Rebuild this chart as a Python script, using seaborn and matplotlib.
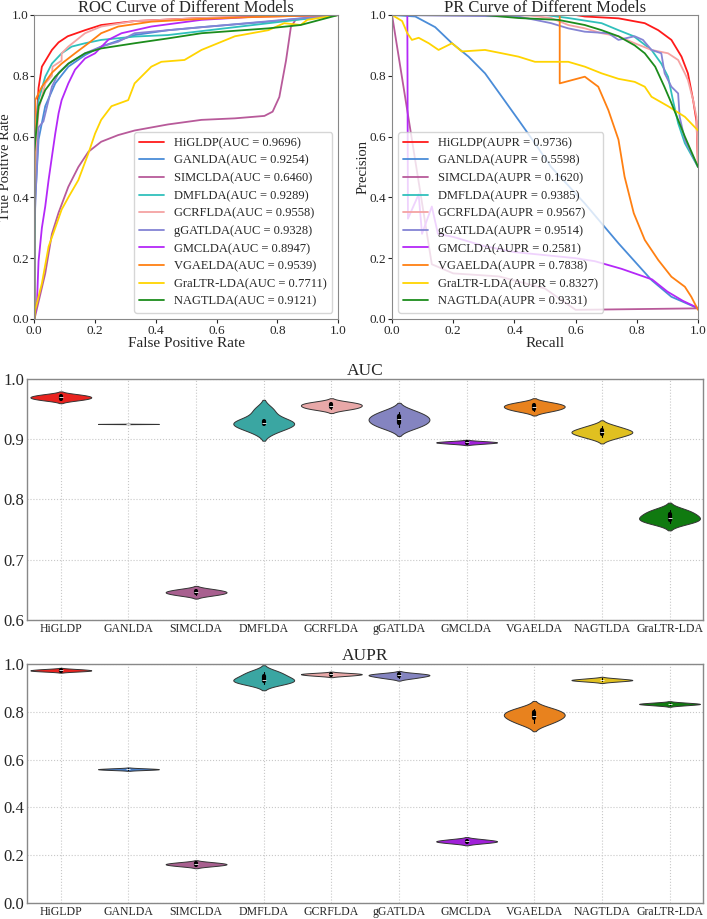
import numpy as np
import pandas as pd
import matplotlib
matplotlib.use("Agg")
import matplotlib.pyplot as plt
import seaborn as sns

# model names / colours (curve order = legend order)
models = ['HiGLDP', 'GANLDA', 'SIMCLDA', 'DMFLDA', 'GCRFLDA', 'gGATLDA',
          'GMCLDA', 'VGAELDA', 'GraLTR-LDA', 'NAGTLDA']
auc_vals = ['0.9696', '0.9254', '0.6460', '0.9289', '0.9558', '0.9328',
            '0.8947', '0.9539', '0.7711', '0.9121']
aupr_vals = ['0.9736', '0.5598', '0.1620', '0.9385', '0.9567', '0.9514',
             '0.2581', '0.7838', '0.8327', '0.9331']
line_colors = ['#FF1A1A', '#4A8CD8', '#B85A9A', '#30C0BC', '#F5A3A3', '#8484D4',
               '#B428F8', '#FF8012', '#FFD400', '#1C8C1C']

# ROC curves (fpr, tpr)
roc_higldp = [(0, 0), (0.0, 0.45), (0.005, 0.6), (0.014, 0.76), (0.025, 0.83), (0.058, 0.885), (0.08, 0.91),
              (0.11, 0.93), (0.167, 0.95), (0.22, 0.967), (0.33, 0.98), (0.55, 0.99), (1, 1)]
roc_ganlda = [(0, 0), (0.003, 0.39), (0.014, 0.59), (0.036, 0.70), (0.069, 0.775), (0.112, 0.83),
              (0.167, 0.868), (0.22, 0.896), (0.33, 0.934), (0.44, 0.95), (0.55, 0.96), (0.77, 0.978), (1, 1)]
roc_simclda = [(0, 0), (0.003, 0.01), (0.036, 0.15), (0.058, 0.28), (0.08, 0.35), (0.112, 0.435), (0.145, 0.5),
               (0.178, 0.55), (0.22, 0.583), (0.276, 0.605), (0.33, 0.62), (0.44, 0.64), (0.55, 0.655),
               (0.66, 0.66), (0.757, 0.668), (0.784, 0.682), (0.806, 0.73), (0.828, 0.85), (0.844, 0.96),
               (0.86, 0.985), (1, 1)]
roc_dmflda = [(0, 0), (0.0, 0.45), (0.005, 0.6), (0.014, 0.72), (0.036, 0.797), (0.058, 0.84), (0.09, 0.874),
              (0.123, 0.896), (0.167, 0.907), (0.22, 0.918), (0.33, 0.929), (0.44, 0.934), (1, 1)]
roc_gcrflda = [(0, 0), (0.0, 0.4), (0.005, 0.55), (0.014, 0.687), (0.036, 0.775), (0.058, 0.8), (0.06, 0.83),
               (0.09, 0.85), (0.09, 0.874), (0.112, 0.896), (0.167, 0.94), (0.22, 0.962), (0.33, 0.98),
               (0.55, 0.99), (1, 1)]
roc_ggatlda = [(0, 0), (0.0, 0.3), (0.014, 0.63), (0.03, 0.65), (0.047, 0.72), (0.058, 0.764), (0.08, 0.81),
               (0.112, 0.84), (0.167, 0.874), (0.22, 0.896), (0.276, 0.912), (0.33, 0.94), (1, 1)]
roc_gmclda = [(0, 0), (0.009, 0.06), (0.014, 0.19), (0.025, 0.30), (0.036, 0.37), (0.047, 0.457),
              (0.058, 0.534), (0.069, 0.61), (0.08, 0.677), (0.09, 0.72), (0.112, 0.775), (0.134, 0.82),
              (0.167, 0.857), (0.2, 0.874), (0.243, 0.918), (0.287, 0.94), (0.385, 0.962), (0.55, 0.984),
              (0.77, 0.997), (1, 1)]
roc_vgaelda = [(0, 0), (0.0, 0.5), (0.003, 0.72), (0.025, 0.764), (0.058, 0.81), (0.09, 0.84), (0.134, 0.874),
               (0.178, 0.907), (0.22, 0.94), (0.276, 0.962), (0.385, 0.978), (0.55, 0.987), (0.77, 0.995), (1, 1)]
roc_graltr = [(0, 0), (0.003, 0.03), (0.025, 0.117), (0.047, 0.238), (0.069, 0.30), (0.09, 0.36), (0.112, 0.40),
              (0.145, 0.457), (0.178, 0.545), (0.2, 0.61), (0.22, 0.655), (0.254, 0.70), (0.309, 0.72),
              (0.33, 0.775), (0.385, 0.83), (0.418, 0.846), (0.494, 0.852), (0.55, 0.885), (0.66, 0.93),
              (0.77, 0.95), (0.822, 0.973), (0.876, 0.967), (0.898, 0.984), (1, 1)]
roc_nagtlda = [(0, 0), (0.0, 0.55), (0.014, 0.70), (0.036, 0.753), (0.069, 0.797), (0.112, 0.84),
               (0.167, 0.874), (0.22, 0.89), (0.33, 0.907), (0.44, 0.923), (0.55, 0.94), (0.77, 0.956),
               (0.876, 0.967), (1, 1)]

# PR curves (recall, precision)
pr_higldp = [(0, 1), (0.6, 1.0), (0.63, 0.995), (0.74, 0.989), (0.826, 0.973), (0.87, 0.95), (0.913, 0.918),
             (0.946, 0.863), (0.967, 0.808), (0.984, 0.72), (0.995, 0.65), (1.0, 0.5)]
pr_ganlda = [(0, 1), (0.076, 0.995), (0.141, 0.96), (0.196, 0.907), (0.25, 0.863), (0.304, 0.808),
             (0.359, 0.731), (0.413, 0.655), (0.467, 0.578), (0.52, 0.50), (0.63, 0.38), (0.74, 0.249),
             (0.848, 0.128), (0.913, 0.073), (1.0, 0.035)]
pr_simclda = [(0, 1), (0.065, 0.59), (0.13, 0.18), (0.2, 0.15), (0.35, 0.14), (0.5, 0.1), (0.6, 0.03),
              (1.0, 0.035)]
pr_dmflda = [(0, 1), (0.5, 1.0), (0.576, 0.99), (0.685, 0.973), (0.74, 0.95), (0.79, 0.93), (0.848, 0.885),
             (0.88, 0.84), (0.902, 0.797), (0.918, 0.72), (0.935, 0.644), (0.957, 0.578), (1.0, 0.5)]
pr_gcrflda = [(0, 1), (0.45, 0.998), (0.52, 0.99), (0.576, 0.967), (0.63, 0.956), (0.685, 0.94), (0.74, 0.93),
              (0.793, 0.907), (0.848, 0.885), (0.902, 0.874), (0.935, 0.852), (0.957, 0.808), (0.967, 0.786),
              (0.984, 0.72), (0.995, 0.665), (1.0, 0.5)]
pr_ggatlda = [(0, 1), (0.41, 0.995), (0.467, 0.984), (0.52, 0.973), (0.576, 0.956), (0.63, 0.945),
              (0.707, 0.94), (0.74, 0.918), (0.793, 0.93), (0.82, 0.918), (0.848, 0.885), (0.88, 0.874),
              (0.891, 0.808), (0.913, 0.764), (0.935, 0.742), (0.94, 0.665), (0.957, 0.589), (1.0, 0.5)]
pr_gmclda = [(0, 1), (0.05, 1.0), (0.052, 0.33), (0.087, 0.41), (0.098, 0.28), (0.13, 0.37), (0.15, 0.28),
             (0.2, 0.27), (0.3, 0.24), (0.4, 0.22), (0.5, 0.21), (0.6, 0.2), (0.663, 0.19), (0.75, 0.165),
             (0.85, 0.13), (0.9, 0.09), (0.95, 0.06), (1.0, 0.036)]
pr_vgaelda = [(0, 1), (0.548, 1.0), (0.548, 0.775), (0.63, 0.797), (0.674, 0.764), (0.707, 0.687),
              (0.74, 0.59), (0.76, 0.468), (0.79, 0.348), (0.826, 0.26), (0.87, 0.194), (0.913, 0.139),
              (0.957, 0.106), (0.978, 0.073), (1.0, 0.03)]
pr_graltr = [(0, 1), (0.033, 0.98), (0.05, 0.94), (0.065, 0.918), (0.087, 0.925), (0.12, 0.907),
             (0.152, 0.885), (0.196, 0.907), (0.228, 0.88), (0.304, 0.885), (0.359, 0.874), (0.413, 0.863),
             (0.467, 0.846), (0.576, 0.846), (0.63, 0.83), (0.685, 0.808), (0.74, 0.79), (0.793, 0.78),
             (0.826, 0.764), (0.848, 0.731), (0.902, 0.70), (0.957, 0.665), (1.0, 0.62)]
pr_nagtlda = [(0, 1), (0.3, 1.0), (0.413, 0.99), (0.543, 0.984), (0.63, 0.967), (0.685, 0.95), (0.74, 0.93),
              (0.793, 0.90), (0.826, 0.874), (0.86, 0.83), (0.89, 0.764), (0.913, 0.71), (0.935, 0.655),
              (0.957, 0.6), (1.0, 0.5)]

roc_curves = [roc_higldp, roc_ganlda, roc_simclda, roc_dmflda, roc_gcrflda, roc_ggatlda,
              roc_gmclda, roc_vgaelda, roc_graltr, roc_nagtlda]
pr_curves = [pr_higldp, pr_ganlda, pr_simclda, pr_dmflda, pr_gcrflda, pr_ggatlda,
             pr_gmclda, pr_vgaelda, pr_graltr, pr_nagtlda]

# per-fold scores for the violins (violin order differs from legend order)
violin_models = ['HiGLDP', 'GANLDA', 'SIMCLDA', 'DMFLDA', 'GCRFLDA', 'gGATLDA',
                 'GMCLDA', 'VGAELDA', 'NAGTLDA', 'GraLTR-LDA']
violin_colors = ['#E8231F', '#4A7FC8', '#A8608F', '#3AA6A2', '#E8A8A8', '#8484C0',
                 '#A020D8', '#E8821E', '#E0C020', '#107A10']
auc_folds = [
    [0.9650, 0.9676, 0.9696, 0.9716, 0.9742],
    [0.9252, 0.9253, 0.9254, 0.9255, 0.9256],
    [0.6410, 0.6440, 0.6460, 0.6480, 0.6510],
    [0.9150, 0.9250, 0.9270, 0.9300, 0.9480],
    [0.9500, 0.9530, 0.9560, 0.9585, 0.9615],
    [0.9200, 0.9270, 0.9330, 0.9380, 0.9460],
    [0.8925, 0.8940, 0.8947, 0.8955, 0.8968],
    [0.9470, 0.9510, 0.9540, 0.9570, 0.9605],
    [0.9030, 0.9090, 0.9120, 0.9150, 0.9215],
    [0.7610, 0.7660, 0.7700, 0.7760, 0.7825],
]
aupr_folds = [
    [0.9690, 0.9715, 0.9735, 0.9755, 0.9785],
    [0.5565, 0.5585, 0.5598, 0.5610, 0.5632],
    [0.1540, 0.1590, 0.1620, 0.1650, 0.1700],
    [0.9180, 0.9280, 0.9350, 0.9500, 0.9670],
    [0.9510, 0.9545, 0.9570, 0.9590, 0.9620],
    [0.9410, 0.9480, 0.9520, 0.9560, 0.9600],
    [0.2500, 0.2550, 0.2580, 0.2610, 0.2665],
    [0.7520, 0.7720, 0.7840, 0.7970, 0.8120],
    [0.9270, 0.9310, 0.9330, 0.9350, 0.9395],
    [0.8270, 0.8310, 0.8327, 0.8345, 0.8383],
]

sns.set_style("white")
plt.rcParams['font.family'] = ['Liberation Serif', 'DejaVu Serif']

fig = plt.figure(figsize=(7.07, 9.19), dpi=100)
ax_roc = fig.add_axes([0.0485, 0.6529, 0.4300, 0.3308])
ax_pr = fig.add_axes([0.5545, 0.6529, 0.4328, 0.3308])
ax_auc = fig.add_axes([0.0382, 0.3254, 0.9566, 0.2622])
ax_aupr = fig.add_axes([0.0382, 0.0175, 0.9566, 0.2600])

for pts, name, val, c in zip(roc_curves, models, auc_vals, line_colors):
    xs, ys = zip(*pts)
    ax_roc.plot(xs, ys, color=c, lw=1.3, label=f'{name}(AUC = {val})')
for pts, name, val, c in zip(pr_curves, models, aupr_vals, line_colors):
    xs, ys = zip(*pts)
    ax_pr.plot(xs, ys, color=c, lw=1.3, label=f'{name}(AUPR = {val})')

for ax, title, xl, yl, loc in [(ax_roc, 'ROC Curve of Different Models', 'False Positive Rate', 'True Positive Rate', 'lower right'),
                               (ax_pr, 'PR Curve of Different Models', 'Recall', 'Precision', 'lower left')]:
    ax.set_xlim(0, 1)
    ax.set_ylim(0, 1)
    ax.set_xticks(np.arange(0, 1.01, 0.2))
    ax.set_yticks(np.arange(0, 1.01, 0.2))
    ax.tick_params(labelsize=9.5, length=3, direction='out', left=True, bottom=True, pad=1)
    ax.set_title(title, fontsize=12, pad=2)
    ax.set_xlabel(xl, fontsize=11, labelpad=0)
    ax.set_ylabel(yl, fontsize=10.5, labelpad=0)
    for s in ax.spines.values():
        s.set_color('#888888')
        s.set_linewidth(0.8)
    ax.legend(loc=loc, fontsize=9, handlelength=2.0, labelspacing=0.45, borderpad=0.4)

# violins
for ax, folds, title, ylim, yticks in [(ax_auc, auc_folds, 'AUC', (0.6, 1.0), np.arange(0.6, 1.01, 0.1)),
                                       (ax_aupr, aupr_folds, 'AUPR', (0.0, 1.0), np.arange(0, 1.01, 0.2))]:
    df = pd.DataFrame({
        'model': np.repeat(violin_models, [len(f) for f in folds]),
        'score': np.concatenate(folds),
    })
    sns.violinplot(data=df, x='model', y='score', hue='model', order=violin_models,
                   hue_order=violin_models, palette=violin_colors, saturation=1, legend=False,
                   density_norm='width', width=0.9, inner='box', linewidth=0.7, linecolor='#333333',
                   inner_kws=dict(box_width=3, whis_width=0.8, color='black'), ax=ax)
    ax.set_ylim(*ylim)
    ax.set_xlim(-0.5, 9.5)
    ax.set_yticks(yticks)
    ax.set_yticklabels([f'{t:.1f}' for t in yticks])
    ax.set_title(title, fontsize=12.5, pad=3)
    ax.set_xlabel('')
    ax.set_ylabel('')
    ax.tick_params(axis='y', labelsize=12, length=0, pad=2)
    ax.tick_params(axis='x', labelsize=8.5, length=0, pad=2)
    ax.grid(True, linestyle=':', color='#c8c8c8', linewidth=0.8)
    ax.set_axisbelow(True)
    for s in ax.spines.values():
        s.set_color('#888888')
        s.set_linewidth(1.0)

fig.savefig('out.png', dpi=100)
